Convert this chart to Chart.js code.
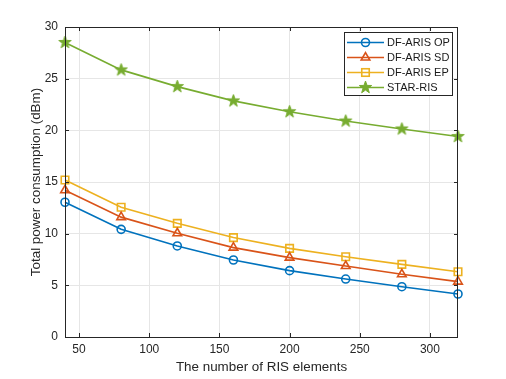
<!DOCTYPE html>
<html><head><meta charset="utf-8">
<script src="https://cdn.jsdelivr.net/npm/chart.js@4"></script>
<style>html,body{margin:0;padding:0;background:#fff}canvas{display:block}</style>
</head>
<body>
<canvas id="c" width="506" height="379"></canvas>
<script>
const xValues = [40, 80, 120, 160, 200, 240, 280, 320];
const opValues = [13.04, 10.42, 8.81, 7.45, 6.42, 5.61, 4.87, 4.16];
const sdValues = [14.2, 11.6, 10.04, 8.65, 7.68, 6.87, 6.07, 5.36];
const epValues = [15.2, 12.55, 11.0, 9.62, 8.58, 7.77, 7.03, 6.32];
const starValues = [28.5, 25.85, 24.23, 22.85, 21.8, 20.9, 20.13, 19.4];
const seriesNames = ['DF-ARIS OP', 'DF-ARIS SD', 'DF-ARIS EP', 'STAR-RIS'];
const xTicks = [50, 100, 150, 200, 250, 300];
const yTicks = [0, 5, 10, 15, 20, 25, 30];
const xTitle = 'The number of RIS elements';
const yTitle = 'Total power consumption (dBm)';

const colors = ['#0072BD', '#D95319', '#EDB120', '#77AC30'];
const FONT = '"Liberation Sans", Arial, Helvetica, sans-serif';

function makeStar(color, R) {
  const s = Math.ceil(R * 2 + 2);
  const cv = document.createElement('canvas');
  cv.width = s; cv.height = s;
  const c = cv.getContext('2d');
  const cx = s / 2, cy = s / 2, r = R * 0.4;
  c.beginPath();
  for (let i = 0; i < 10; i++) {
    const a = -Math.PI / 2 + i * Math.PI / 5;
    const rr = i % 2 === 0 ? R : r;
    const px = cx + rr * Math.cos(a), py = cy + rr * Math.sin(a);
    i === 0 ? c.moveTo(px, py) : c.lineTo(px, py);
  }
  c.closePath();
  c.fillStyle = color; c.fill();
  c.strokeStyle = color; c.lineWidth = 1; c.stroke();
  return cv;
}
const starImg = makeStar(colors[3], 6.5);

function toPts(vals) { return xValues.map((x, i) => ({x: x, y: vals[i]})); }

const styles = ['circle', 'triangle', 'rect', starImg];
const radii = [4, 5, 5.3, 6];
const allValues = [opValues, sdValues, epValues, starValues];

const datasets = allValues.map((vals, i) => ({
  label: seriesNames[i],
  data: toPts(vals),
  borderColor: colors[i],
  backgroundColor: 'rgba(0,0,0,0)',
  borderWidth: 1.6,
  pointStyle: styles[i],
  pointRadius: radii[i],
  pointBorderWidth: 1.6,
  pointBorderColor: colors[i],
  pointBackgroundColor: 'rgba(0,0,0,0)',
  tension: 0,
  fill: false,
  clip: false
}));

function drawMarker(ctx, i, x, y) {
  const st = styles[i];
  ctx.save();
  ctx.strokeStyle = colors[i];
  ctx.lineWidth = 1.6;
  if (st === 'circle') {
    ctx.beginPath(); ctx.arc(x, y, radii[i], 0, Math.PI * 2); ctx.stroke();
  } else if (st === 'triangle') {
    const r = radii[i];
    const side = 3 * r / Math.sqrt(3);
    const h = side * Math.sqrt(3) / 2;
    ctx.beginPath();
    ctx.moveTo(x - side / 2, y + h / 3);
    ctx.lineTo(x + side / 2, y + h / 3);
    ctx.lineTo(x, y - 2 * h / 3);
    ctx.closePath(); ctx.stroke();
  } else if (st === 'rect') {
    const s = radii[i] * Math.SQRT1_2;
    ctx.strokeRect(x - s, y - s, 2 * s, 2 * s);
  } else {
    ctx.drawImage(st, x - st.width / 2, y - st.height / 2);
  }
  ctx.restore();
}

const framePlugin = {
  id: 'frame',
  afterDraw(chart) {
    const ctx = chart.ctx;
    const a = chart.chartArea;
    const xs = chart.scales.x, ys = chart.scales.y;
    ctx.save();
    ctx.strokeStyle = '#262626';
    ctx.lineWidth = 1;
    ctx.strokeRect(Math.round(a.left) + 0.5, Math.round(a.top) + 0.5, Math.round(a.right - a.left) - 1, Math.round(a.bottom - a.top));
    const tl = 4;
    ctx.beginPath();
    xTicks.forEach(v => {
      const px = Math.round(xs.getPixelForValue(v)) + 0.5;
      ctx.moveTo(px, a.bottom); ctx.lineTo(px, a.bottom - tl);
      ctx.moveTo(px, a.top); ctx.lineTo(px, a.top + tl);
    });
    yTicks.forEach(v => {
      const py = Math.round(ys.getPixelForValue(v)) + 0.5;
      ctx.moveTo(a.left, py); ctx.lineTo(a.left + tl, py);
      ctx.moveTo(a.right, py); ctx.lineTo(a.right - tl, py);
    });
    ctx.stroke();

    // legend
    const bx = 344.5, by = 32.5, bw = 108, bh = 63;
    ctx.fillStyle = '#fff';
    ctx.fillRect(bx, by, bw, bh);
    ctx.strokeStyle = '#262626';
    ctx.strokeRect(bx, by, bw, bh);
    ctx.font = '11px ' + FONT;
    ctx.textBaseline = 'middle';
    ctx.textAlign = 'left';
    chart.data.datasets.forEach((ds, i) => {
      const y = 42.5 + i * 15;
      ctx.strokeStyle = colors[i];
      ctx.lineWidth = 1.6;
      ctx.beginPath(); ctx.moveTo(347, y); ctx.lineTo(384, y); ctx.stroke();
      drawMarker(ctx, i, 365.5, y);
      ctx.fillStyle = '#1a1a1a';
      ctx.fillText(ds.label, 387, y + 0.5);
    });
    ctx.restore();
  }
};

new Chart(document.getElementById('c'), {
  type: 'line',
  data: { datasets: datasets },
  options: {
    responsive: false,
    animation: false,
    devicePixelRatio: 1,
    layout: { padding: { left: 0, right: 48, top: 27, bottom: 0 } },
    plugins: { legend: { display: false }, tooltip: { enabled: false } },
    scales: {
      x: {
        type: 'linear', min: 40, max: 320,
        afterBuildTicks: (ax) => { ax.ticks = xTicks.map(v => ({value: v})); },
        afterFit: (ax) => { ax.height = 42; },
        grid: { color: '#e6e6e6', drawTicks: false, lineWidth: 1 },
        border: { display: false },
        ticks: { color: '#262626', font: { family: FONT, size: 12 }, padding: 5, maxRotation: 0, autoSkip: false },
        title: { display: true, text: xTitle, color: '#262626', font: { family: FONT, size: 13.4 }, padding: { top: 0, bottom: 4 } }
      },
      y: {
        type: 'linear', min: 0, max: 30,
        afterBuildTicks: (ax) => { ax.ticks = yTicks.map(v => ({value: v})); },
        afterFit: (ax) => { ax.width = 65; },
        grid: { color: '#e6e6e6', drawTicks: false, lineWidth: 1 },
        border: { display: false },
        ticks: { color: '#262626', font: { family: FONT, size: 12 }, padding: 7, autoSkip: false },
        title: { display: true, text: yTitle, color: '#262626', font: { family: FONT, size: 13.4 }, padding: { top: 28, bottom: 0 } }
      }
    }
  },
  plugins: [framePlugin]
});
</script>
</body></html>
